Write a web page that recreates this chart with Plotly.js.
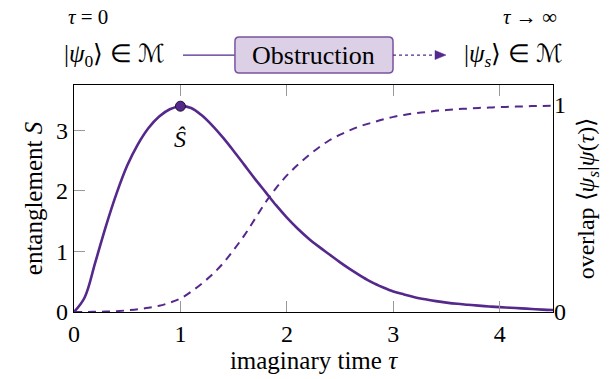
<!DOCTYPE html>
<html>
<head>
<meta charset="utf-8">
<script src="https://cdn.plot.ly/plotly-3.0.1.min.js"></script>
<style>html,body{margin:0;padding:0;background:#fff}#chart{width:616px;height:379px}
#chart svg text{font-family:'Liberation Serif' !important}</style>
</head>
<body>
<div id="chart"></div>
<script>
// ---- data ----
const tau = [0, 0.1, 0.2, 0.3, 0.4, 0.5, 0.6, 0.7, 0.8, 0.9, 1.0, 1.1, 1.2, 1.3, 1.4, 1.5, 1.6, 1.7, 1.8, 1.9, 2.0, 2.1, 2.2, 2.3, 2.4, 2.5, 2.6, 2.7, 2.8, 2.9, 3.0, 3.1, 3.2, 3.3, 3.4, 3.5, 3.6, 3.7, 3.8, 3.9, 4.0, 4.1, 4.2, 4.3, 4.4, 4.5];
const entanglement = [0, 0.24, 0.82, 1.42, 1.96, 2.42, 2.77, 3.04, 3.23, 3.35, 3.40, 3.37, 3.25, 3.08, 2.88, 2.66, 2.43, 2.20, 1.98, 1.76, 1.56, 1.38, 1.22, 1.08, 0.95, 0.82, 0.70, 0.59, 0.49, 0.41, 0.34, 0.29, 0.245, 0.21, 0.18, 0.155, 0.135, 0.12, 0.105, 0.092, 0.08, 0.07, 0.06, 0.05, 0.04, 0.033];
const overlap = [0, 0.0002, 0.001, 0.002, 0.004, 0.008, 0.013, 0.02, 0.03, 0.045, 0.065, 0.098, 0.137, 0.182, 0.235, 0.30, 0.37, 0.45, 0.53, 0.60, 0.66, 0.71, 0.755, 0.795, 0.83, 0.857, 0.88, 0.90, 0.915, 0.93, 0.943, 0.952, 0.96, 0.966, 0.972, 0.976, 0.98, 0.983, 0.986, 0.988, 0.99, 0.992, 0.993, 0.995, 0.996, 0.997];
const xTicks = [0, 1, 2, 3, 4];
const yTicks = [0, 1, 2, 3];
const y2Ticks = [0, 1];

// symbols (escaped so the file stays ASCII)
const TAU = '\u03C4', PSI = '\u03C8', SCRM = '\u2133', LANG = '\u27E8', RANG = '\u27E9';
const ARR = '\u2192', INF = '\u221E', IN = '\u2208', SHAT = '\u015C';

// peak of entanglement
let iMax = 0;
entanglement.forEach((v, i) => { if (v > entanglement[iMax]) iMax = i; });
const peakTau = [tau[iMax]];
const peakS = [entanglement[iMax]];

const purple = '#55288c';
const FONT = 'Liberation Serif';

const traces = [
  {x: tau, y: overlap, yaxis: 'y2', mode: 'lines', line: {color: purple, width: 2, dash: '8px,6px', shape: 'spline', smoothing: 1}, hoverinfo: 'skip'},
  {x: tau, y: entanglement, mode: 'lines', line: {color: purple, width: 2.6, shape: 'spline', smoothing: 1}, hoverinfo: 'skip'},
  {x: peakTau, y: peakS, mode: 'markers', marker: {color: purple, size: 10, line: {color: '#1e1030', width: 1}}, hoverinfo: 'skip'}
];

// layout helpers (paper coords)
const bx0 = 0.336, bx1 = 0.666, by0 = 1.053, by1 = 1.211, rx = 0.009, ry = 0.019;
const boxPath = `M ${bx0+rx},${by0} L ${bx1-rx},${by0} Q ${bx1},${by0} ${bx1},${by0+ry} L ${bx1},${by1-ry} Q ${bx1},${by1} ${bx1-rx},${by1} L ${bx0+rx},${by1} Q ${bx0},${by1} ${bx0},${by1-ry} L ${bx0},${by0+ry} Q ${bx0},${by0} ${bx0+rx},${by0} Z`;
const rowY = 1.132;

const layout = {
  width: 616, height: 379,
  margin: {l: 74, r: 63, t: 85, b: 67, pad: 0},
  paper_bgcolor: '#fff', plot_bgcolor: '#fff',
  showlegend: false,
  font: {family: FONT, size: 24, color: '#000'},
  xaxis: {
    range: [0, 4.5], tickvals: xTicks, ticktext: xTicks.map(String),
    showgrid: false, zeroline: false, showline: true, linecolor: '#000', linewidth: 1.2,
    mirror: 'ticks', ticks: 'inside', ticklen: 11, tickcolor: '#999', tickwidth: 1,
    title: {text: 'imaginary time <i>' + TAU + '</i>', font: {size: 25}, standoff: 4}
  },
  yaxis: {
    range: [0, 3.75], tickvals: yTicks, ticktext: yTicks.map(String),
    showgrid: false, zeroline: false, showline: true, linecolor: '#000', linewidth: 1.2,
    mirror: true, ticks: 'inside', ticklen: 11, tickcolor: '#999', tickwidth: 1,
    title: {text: 'entanglement <i>S</i>', font: {size: 25}, standoff: 6}
  },
  yaxis2: {
    overlaying: 'y', side: 'right', range: [0, 1.097], tickvals: y2Ticks, ticktext: y2Ticks.map(String),
    showgrid: false, zeroline: false, showline: false, ticks: '',
    title: {text: 'overlap ' + LANG + '<i>' + PSI + '</i><sub><i>s</i></sub>|<i>' + PSI + '</i>(<i>' + TAU + '</i>)' + RANG, font: {size: 24}, standoff: 12}
  },
  shapes: [
    {type: 'line', xref: 'paper', yref: 'paper', x0: 0.2276, x1: bx0, y0: rowY, y1: rowY, line: {color: purple, width: 1.2}},
    {type: 'path', xref: 'paper', yref: 'paper', path: boxPath, fillcolor: '#dcd0e6', line: {color: '#7a52a0', width: 1.5}},
    {type: 'line', xref: 'paper', yref: 'paper', x0: bx1, x1: 0.755, y0: rowY, y1: rowY, line: {color: purple, width: 1.3, dash: 'dot'}},
    {type: 'path', xref: 'paper', yref: 'paper', path: `M 0.7537,${rowY-0.02} L 0.7766,${rowY} L 0.7537,${rowY+0.02} Z`, fillcolor: purple, line: {color: purple, width: 0.5}}
  ],
  annotations: [
    {xref: 'paper', yref: 'paper', x: 0.029, y: 1.30, text: '<i>' + TAU + '</i> = 0', showarrow: false, font: {size: 21}, xanchor: 'center', yanchor: 'middle'},
    {xref: 'paper', yref: 'paper', x: 0.952, y: 1.30, text: '<i>' + TAU + '</i> ' + ARR + ' ' + INF, showarrow: false, font: {size: 21}, xanchor: 'center', yanchor: 'middle'},
    {xref: 'paper', yref: 'paper', x: -0.025, y: rowY, text: '|<i>' + PSI + '</i><sub>0</sub>' + RANG + ' ' + IN + ' ' + SCRM, showarrow: false, font: {size: 25}, xanchor: 'left', yanchor: 'middle'},
    {xref: 'paper', yref: 'paper', x: (bx0 + bx1) / 2, y: rowY, text: 'Obstruction', showarrow: false, font: {size: 26}, xanchor: 'center', yanchor: 'middle'},
    {xref: 'paper', yref: 'paper', x: 1.025, y: rowY, text: '|<i>' + PSI + '</i><sub><i>s</i></sub>' + RANG + ' ' + IN + ' ' + SCRM, showarrow: false, font: {size: 25}, xanchor: 'right', yanchor: 'middle'},
    {xref: 'x', yref: 'y', x: peakTau[0], y: peakS[0] - 0.55, text: '<i>' + SHAT + '</i>', showarrow: false, font: {size: 24}, xanchor: 'center', yanchor: 'middle'}
  ]
};

Plotly.newPlot('chart', traces, layout, {staticPlot: true, displayModeBar: false});
</script>
</body>
</html>
